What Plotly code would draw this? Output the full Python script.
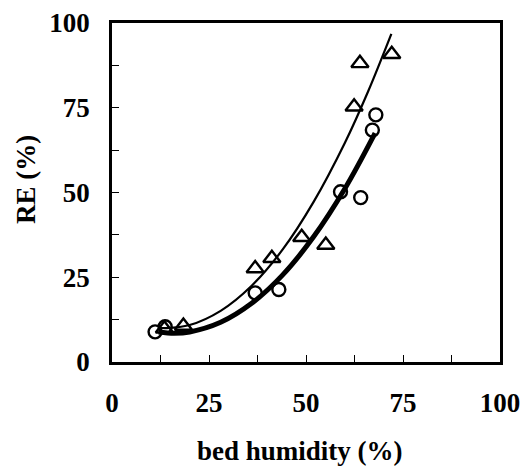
import plotly.graph_objects as go

# Measured data points
circle_x = [11.1, 13.7, 36.9, 43.0, 58.9, 64.1, 67.1, 68.0]
circle_y = [8.9, 10.4, 20.4, 21.4, 50.2, 48.5, 68.4, 72.9]

tri_x = [13.5, 18.4, 36.9, 41.2, 48.9, 55.1, 62.4, 63.9, 72.1]
tri_y = [9.8, 10.6, 27.6, 30.6, 36.8, 34.5, 75.3, 88.1, 90.8]

# Trend curves
thin_x = [12, 14, 20, 28, 36, 44, 52, 60, 66, 72]
thin_y = [10.1, 10.0, 10.9, 15.1, 22.5, 33.2, 47.3, 64.6, 79.8, 96.8]

thick_x = [12, 16, 20, 28, 36, 44, 52, 60, 67.8]
thick_y = [8.85, 8.5, 8.85, 11.7, 17.3, 25.7, 37.0, 51.1, 67.5]

tick_vals = [0, 25, 50, 75, 100]
tick_text = ["0", "25", "50", "75", "100"]

FONT = "Liberation Serif"
FS = 27

fig = go.Figure()
fig.add_trace(go.Scatter(x=thin_x, y=thin_y, mode="lines",
                         line=dict(color="black", width=2.2, shape="spline"),
                         showlegend=False, hoverinfo="skip"))
fig.add_trace(go.Scatter(x=thick_x, y=thick_y, mode="lines",
                         line=dict(color="black", width=5, shape="spline"),
                         showlegend=False, hoverinfo="skip"))
fig.add_trace(go.Scatter(x=circle_x, y=circle_y, mode="markers",
                         marker=dict(symbol="circle-open", size=13, color="black",
                                     line=dict(width=2.4, color="black")),
                         showlegend=False))
fig.add_trace(go.Scatter(x=tri_x, y=tri_y, mode="markers",
                         marker=dict(symbol="triangle-up-open", size=15, color="black",
                                     line=dict(width=2.4, color="black")),
                         showlegend=False))

axis_common = dict(
    range=[0, 100], tickvals=tick_vals, ticktext=tick_text,
    ticks="inside", ticklen=7, tickwidth=1.2, tickcolor="black",
    minor=dict(dtick=12.5, tick0=0, ticks="inside", ticklen=7, tickwidth=1.2, tickcolor="black"),
    showline=True, linecolor="black", linewidth=2.5, mirror=True,
    showgrid=False, zeroline=False, automargin=False,
    tickfont=dict(family=FONT, size=FS, color="black", weight="bold"),
)

fig.update_xaxes(**axis_common, ticklabelstandoff=15)
fig.update_yaxes(**axis_common, ticklabelstandoff=14)

fig.update_layout(
    width=522, height=468,
    margin=dict(l=112, r=22, t=23, b=106),
    plot_bgcolor="white", paper_bgcolor="white",
    annotations=[
        dict(text="bed humidity (%)", xref="paper", yref="paper",
             x=0.4845, y=-0.2625, xanchor="center", yanchor="middle",
             showarrow=False,
             font=dict(family=FONT, size=FS, color="black", weight="bold")),
        dict(text="RE (%)", xref="paper", yref="paper",
             x=-0.2216, y=0.537, xanchor="center", yanchor="middle",
             textangle=-90, showarrow=False,
             font=dict(family=FONT, size=FS, color="black", weight="bold")),
    ],
)

fig.write_html("out.html")
